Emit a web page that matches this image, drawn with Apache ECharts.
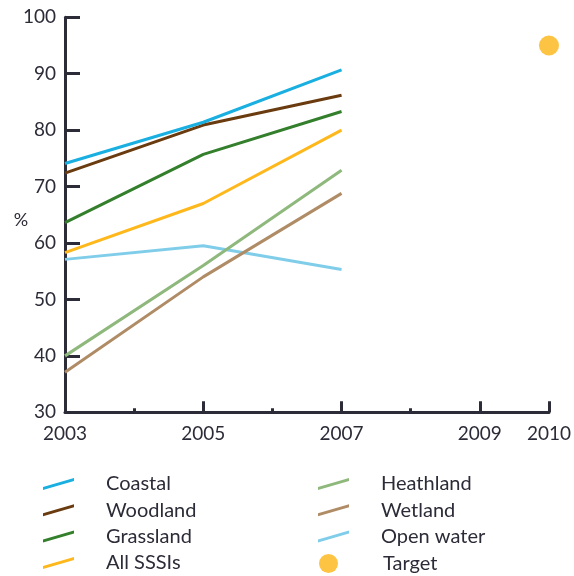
<!DOCTYPE html>
<html>
<head>
<meta charset="utf-8">
<style>
  html, body { margin: 0; padding: 0; background: #fff; }
  #chart { width: 574px; height: 576px; }
</style>
<script src="https://cdn.jsdelivr.net/npm/echarts@6/dist/echarts.min.js"></script>
</head>
<body>
<div id="chart"></div>
<script>
// Survey years
const years = [2003, 2005, 2007];

// Share of SSSI area in favourable or recovering condition (%)
const coastal   = [74.1, 81.4, 90.7];
const woodland  = [72.4, 80.9, 86.2];
const grassland = [63.6, 75.7, 83.3];
const allSSSIs  = [58.3, 67.0, 80.0];
const heathland = [40.0, 56.0, 72.9];
const wetland   = [37.1, 54.0, 68.8];
const openWater = [57.1, 59.5, 55.3];

// 2010 target
const targetYear = 2010;
const targetValue = 95;

// Axis ticks and labels
const xLabelYears = [2003, 2005, 2007, 2009, 2010];
const xMajorTicks = [2005, 2007, 2009, 2010];
const xMinorTicks = [2004, 2006, 2008];

const ink = '#2c2c38';
const font = 'Lato, "Open Sans", "Noto Sans", sans-serif';
const slash = 'path://M0,9 L31,0 L31,3 L0,12 Z';

const lines = [
  { name: 'Open water', data: openWater, color: '#80cdea' },
  { name: 'Wetland',    data: wetland,   color: '#b08c66' },
  { name: 'Heathland',  data: heathland, color: '#8fb97c' },
  { name: 'All SSSIs',  data: allSSSIs,  color: '#ffb81c' },
  { name: 'Grassland',  data: grassland, color: '#337f2c' },
  { name: 'Woodland',   data: woodland,  color: '#6a3b0f' },
  { name: 'Coastal',    data: coastal,   color: '#19afe0' }
];

const series = lines.map(s => ({
  name: s.name,
  type: 'line',
  data: years.map((y, i) => [y, s.data[i]]),
  symbol: 'none',
  lineStyle: { width: 3, color: s.color },
  itemStyle: { color: s.color },
  emphasis: { disabled: true }
}));

series.push({
  name: 'Target',
  type: 'scatter',
  data: [[targetYear, targetValue]],
  symbol: 'circle',
  symbolSize: 20,
  itemStyle: { color: '#fdb515' },
  emphasis: { disabled: true }
});

const legendText = {
  color: ink,
  fontFamily: font,
  fontSize: 20,
  padding: [0, 0, 0, 27]
};

const chart = echarts.init(document.getElementById('chart'), null, { renderer: 'canvas' });
chart.setOption({
  animation: false,
  backgroundColor: '#fff',
  grid: { left: 65, right: 23, top: 17.3, bottom: 163.7 },
  xAxis: [
    {
      type: 'value',
      position: 'bottom',
      min: 2003, max: 2010, interval: 1,
      splitLine: { show: false },
      axisLine: { lineStyle: { color: ink, width: 3 } },
      axisTick: {
        inside: true, length: 11, customValues: xMajorTicks,
        lineStyle: { color: ink, width: 3 }
      },
      axisLabel: {
        customValues: xLabelYears,
        formatter: v => String(v),
        color: ink, fontFamily: font, fontSize: 19, margin: 12
      }
    },
    {
      type: 'value',
      position: 'bottom',
      offset: 0,
      min: 2003, max: 2010, interval: 1,
      splitLine: { show: false },
      axisLine: { show: false },
      axisTick: {
        inside: true, length: 4, customValues: xMinorTicks,
        lineStyle: { color: ink, width: 3 }
      },
      axisLabel: { show: false }
    }
  ],
  yAxis: {
    type: 'value',
    min: 30, max: 100, interval: 10,
    splitLine: { show: false },
    axisLine: { lineStyle: { color: ink, width: 3 } },
    axisTick: { inside: true, length: 15, lineStyle: { color: ink, width: 3 } },
    axisLabel: { color: ink, fontFamily: font, fontSize: 19, margin: 9 }
  },
  graphic: [
    {
      type: 'text',
      x: 21, y: 220,
      style: {
        text: '%', fill: ink, font: '18px ' + font,
        align: 'center', verticalAlign: 'middle'
      }
    }
  ],
  legend: [
    {
      orient: 'vertical',
      left: 43, top: 474, padding: 0,
      itemWidth: 31, itemHeight: 12, itemGap: 6.3,
      icon: slash,
      selectedMode: false,
      textStyle: legendText,
      data: ['Coastal', 'Woodland', 'Grassland', 'All SSSIs']
    },
    {
      orient: 'vertical',
      left: 318, top: 474, padding: 0,
      itemWidth: 31, itemHeight: 12, itemGap: 6.3,
      icon: slash,
      selectedMode: false,
      textStyle: legendText,
      data: ['Heathland', 'Wetland', 'Open water']
    },
    {
      orient: 'vertical',
      left: 319, top: 553.5, padding: 0,
      itemWidth: 19, itemHeight: 19,
      icon: 'circle',
      selectedMode: false,
      textStyle: Object.assign({}, legendText, { padding: [0, 0, 0, 40] }),
      data: ['Target']
    }
  ],
  series: series
});
</script>
</body>
</html>
